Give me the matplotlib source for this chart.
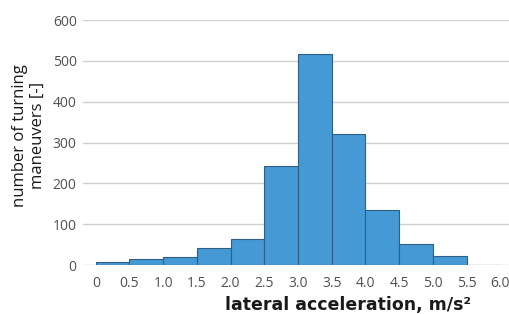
import numpy as np
import matplotlib
matplotlib.use("Agg")
import matplotlib.pyplot as plt

# bin edges and counts
bin_edges = [0, 0.5, 1.0, 1.5, 2.0, 2.5, 3.0, 3.5, 4.0, 4.5, 5.0, 5.5, 6.0]
counts = [8, 15, 20, 42, 64, 243, 518, 320, 136, 51, 22, 1]
tick_labels = ['0', '0.5', '1.0', '1.5', '2.0', '2.5', '3.0', '3.5', '4.0', '4.5', '5.0', '5.5', '6.0']

plt.rcParams['font.family'] = ['Open Sans', 'DejaVu Sans']

fig = plt.figure(figsize=(5.09, 3.14), dpi=100)
ax = fig.add_axes([0.163, 0.156, 0.837, 0.78])

ax.bar(bin_edges[:-1], counts, width=np.diff(bin_edges), align='edge',
       color='#4599d4', edgecolor='#2f5f85', linewidth=0.8, zorder=3)

ax.set_xlim(-0.19, 6.13)
ax.set_ylim(0, 600)
ax.set_yticks(range(0, 601, 100))
ax.set_xticks(bin_edges)
ax.set_xticklabels(tick_labels)
ax.grid(axis='y', color='#d0d0d0', linewidth=1.0, zorder=0)
for s in ax.spines.values():
    s.set_visible(False)
ax.tick_params(length=0, labelsize=10, labelcolor='#505050')
ax.tick_params(axis='x', pad=8)
ax.tick_params(axis='y', pad=4.5)

ax.set_xlabel('lateral acceleration, m/s²', fontsize=12.5, fontweight='bold',
              color='#1a1a1a', family='DejaVu Sans')
ax.xaxis.set_label_coords(0.622, -0.125)
ax.set_ylabel('number of turning\nmaneuvers [-]', fontsize=12, color='#1a1a1a', linespacing=1.15)
ax.yaxis.set_label_coords(-0.088, 0.53)

fig.savefig('out.png', dpi=100)
